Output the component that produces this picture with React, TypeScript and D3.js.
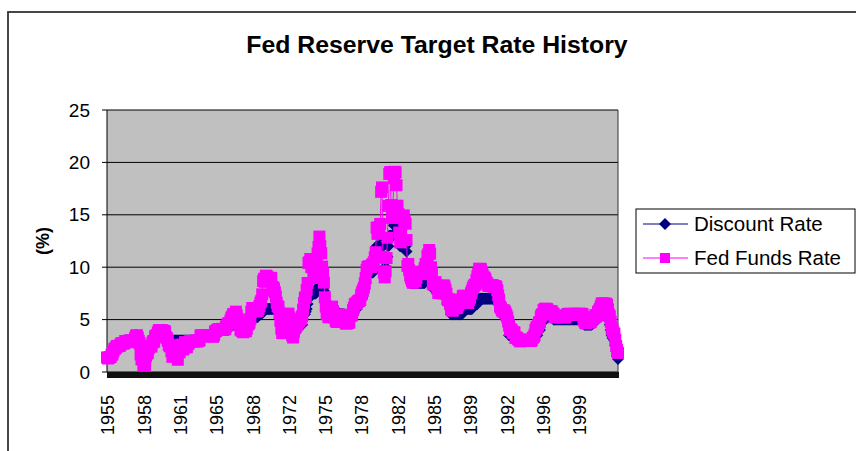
import React from "react";
import * as d3 from "d3";

// Monthly values, Jan 1955 – Dec 2001
const discountRate: number[] = [
  1.5,1.5,1.5,1.75,1.75,1.75,1.75,2,2.25,2.25,2.5,2.5,
  2.5,2.5,2.5,2.75,2.75,2.75,2.75,3,3,3,3,3,
  3,3,3,3,3,3,3,3.5,3.5,3.5,3,3,
  2.75,2.5,2.25,1.75,1.75,1.75,1.75,1.75,2,2,2.5,2.5,
  2.5,2.5,3,3,3,3.5,3.5,3.5,4,4,4,4,
  4,4,4,4,4,3.5,3.5,3,3,3,3,3,
  3,3,3,3,3,3,3,3,3,3,3,3,
  3,3,3,3,3,3,3,3,3,3,3,3,
  3,3,3,3,3,3,3.5,3.5,3.5,3.5,3.5,3.5,
  3.5,3.5,3.5,3.5,3.5,3.5,3.5,3.5,3.5,3.5,4,4,
  4,4,4,4,4,4,4,4,4,4,4,4.5,
  4.5,4.5,4.5,4.5,4.5,4.5,4.5,4.5,4.5,4.5,4.5,4.5,
  4.5,4.5,4.5,4,4,4,4,4,4,4,4.5,4.5,
  4.5,4.5,5,5.5,5.5,5.5,5.5,5.25,5.25,5.25,5.25,5.5,
  5.5,5.5,5.5,6,6,6,6,6,6,6,6,6,
  6,6,6,6,6,6,6,6,6,6,5.75,5.5,
  5,4.75,4.75,4.75,4.75,4.75,5,5,5,5,4.75,4.5,
  4.5,4.5,4.5,4.5,4.5,4.5,4.5,4.5,4.5,4.5,4.5,4.5,
  5,5.5,5.5,5.75,6,6.5,7,7.5,7.5,7.5,7.5,7.5,
  7.5,7.5,7.5,8,8,8,8,8,8,8,8,7.75,
  7.25,6.75,6.25,6.25,6,6,6,6,6,6,6,6,
  5.5,5.5,5.5,5.5,5.5,5.5,5.5,5.5,5.5,5.5,5.25,5.25,
  5.25,5.25,5.25,5.25,5.25,5.25,5.25,5.75,5.75,6,6,6,
  6.5,6.5,6.5,6.5,7,7,7.25,7.75,8,8.5,9.5,9.5,
  9.5,9.5,9.5,9.5,9.5,9.5,10,10.5,11,12,12,12,
  12,13,13,13,12,11,10,10,11,11,12,13,
  13,13,13,13,14,14,14,14,14,14,13,12,
  12,12,12,12,12,12,11.5,10,10,9.5,9,8.5,
  8.5,8.5,8.5,8.5,8.5,8.5,8.5,8.5,8.5,8.5,8.5,8.5,
  8.5,8.5,8.5,9,9,9,9,9,9,9,8.5,8,
  8,8,8,8,7.5,7.5,7.5,7.5,7.5,7.5,7.5,7.5,
  7.5,7.5,7,6.5,6.5,6.5,6,5.5,5.5,5.5,5.5,5.5,
  5.5,5.5,5.5,5.5,5.5,5.5,5.5,5.5,6,6,6,6,
  6,6,6,6,6,6,6,6.5,6.5,6.5,6.5,6.5,
  6.5,7,7,7,7,7,7,7,7,7,7,7,
  7,7,7,7,7,7,7,7,7,7,7,6.5,
  6.5,6,6,5.5,5.5,5.5,5.5,5.5,5,5,4.5,3.5,
  3.5,3.5,3.5,3.5,3.5,3.5,3,3,3,3,3,3,
  3,3,3,3,3,3,3,3,3,3,3,3,
  3,3,3,3,3.5,3.5,3.5,4,4,4,4.75,4.75,
  4.75,5.25,5.25,5.25,5.25,5.25,5.25,5.25,5.25,5.25,5.25,5.25,
  5,5,5,5,5,5,5,5,5,5,5,5,
  5,5,5,5,5,5,5,5,5,5,5,5,
  5,5,5,5,5,5,5,5,5,4.75,4.5,4.5,
  4.5,4.5,4.5,4.5,4.5,4.5,4.5,4.75,4.75,4.75,5,5,
  5,5.25,5.5,5.5,6,6,6,6,6,6,6,6,
  5,5,4.5,4,3.5,3.25,3.25,3,2.5,2,1.5,1.25,
];

const fedFundsRate: number[] = [
  1.39,1.29,1.35,1.43,1.43,1.64,1.68,1.96,2.18,2.24,2.35,2.48,
  2.45,2.5,2.5,2.62,2.75,2.71,2.75,2.73,2.95,2.96,2.88,2.94,
  2.84,3,2.96,3,3,3,2.99,3.24,3.47,3.5,3.28,2.98,
  2.72,1.67,1.2,1.26,0.63,0.93,0.68,1.53,1.76,1.8,2.27,2.42,
  2.48,2.43,2.8,2.96,2.9,3.39,3.47,3.5,3.76,3.98,4,3.99,
  3.99,3.97,3.84,3.92,3.85,3.32,3.23,2.98,2.6,2.47,2.44,1.98,
  1.45,2.54,2.02,1.49,1.98,1.73,1.17,2,1.88,2.26,2.61,2.33,
  2.15,2.37,2.85,2.78,2.36,2.68,2.71,2.93,2.9,2.9,2.94,2.93,
  2.92,3,2.98,2.9,3,2.99,3.02,3.49,3.48,3.5,3.48,3.38,
  3.48,3.48,3.43,3.47,3.5,3.5,3.42,3.5,3.45,3.36,3.52,3.85,
  3.9,3.98,4.04,4.09,4.1,4.04,4.09,4.12,4.01,4.08,4.1,4.32,
  4.42,4.6,4.65,4.67,4.9,5.17,5.3,5.53,5.4,5.53,5.76,5.4,
  4.94,5,4.53,4.05,3.94,3.98,3.79,3.9,3.99,3.88,4.13,4.51,
  4.6,4.71,5.05,5.76,6.11,6.07,6.02,6.03,5.78,5.91,5.82,6.02,
  6.3,6.61,6.79,7.41,8.67,8.9,8.61,9.19,9.15,9,8.85,8.97,
  8.98,8.98,7.76,8.1,7.95,7.61,7.21,6.61,6.29,6.2,5.6,4.9,
  4.14,3.72,3.71,4.15,4.63,4.91,5.31,5.56,5.55,5.2,4.91,4.14,
  3.5,3.29,3.83,4.17,4.27,4.46,4.55,4.8,4.87,5.04,5.06,5.33,
  5.94,6.58,7.09,7.12,7.84,8.49,10.4,10.5,10.78,10.01,10.03,9.95,
  9.65,8.97,9.35,10.51,11.31,11.93,12.92,12.01,11.34,10.06,9.45,8.53,
  7.13,6.24,5.54,5.49,5.22,5.55,6.1,6.14,6.24,5.82,5.22,5.2,
  4.87,4.77,4.84,4.82,5.29,5.48,5.31,5.29,5.25,5.02,4.95,4.65,
  4.61,4.68,4.69,4.73,5.35,5.39,5.42,5.9,6.14,6.47,6.51,6.56,
  6.7,6.78,6.79,6.89,7.36,7.6,7.81,8.04,8.45,8.96,9.76,10.03,
  10.07,10.06,10.09,10.01,10.24,10.29,10.47,10.94,11.43,13.77,13.18,13.78,
  13.82,14.13,17.19,17.61,10.98,9.47,9.03,9.61,10.87,12.81,15.85,18.9,
  19.08,15.93,14.7,15.72,18.52,19.1,19.04,17.82,15.87,15.08,13.31,12.37,
  13.22,14.78,14.68,14.94,14.45,14.15,12.59,10.12,10.31,9.71,9.2,8.95,
  8.68,8.51,8.77,8.8,8.63,8.98,9.37,9.56,9.45,9.48,9.34,9.47,
  9.56,9.59,9.91,10.29,10.32,11.06,11.23,11.64,11.3,9.99,9.43,8.38,
  8.35,8.5,8.58,8.27,7.97,7.53,7.88,7.9,7.92,7.99,8.05,8.27,
  8.14,7.86,7.48,6.99,6.85,6.92,6.56,6.17,5.89,5.85,6.04,6.91,
  6.43,6.1,6.13,6.37,6.85,6.73,6.58,6.73,7.22,7.29,6.69,6.77,
  6.83,6.58,6.58,6.87,7.09,7.51,7.75,8.01,8.19,8.3,8.35,8.76,
  9.12,9.36,9.85,9.84,9.81,9.53,9.24,8.99,9.02,8.84,8.55,8.45,
  8.23,8.24,8.28,8.26,8.18,8.29,8.15,8.13,8.2,8.11,7.81,7.31,
  6.91,6.25,6.12,5.91,5.78,5.9,5.82,5.66,5.45,5.21,4.81,4.43,
  4.03,4.06,3.98,3.73,3.82,3.76,3.25,3.3,3.22,3.1,3.09,2.92,
  3.02,3.03,3.07,2.96,3,3.04,3.06,3.03,3.09,2.99,3.02,2.96,
  3.05,3.25,3.34,3.56,4.01,4.25,4.26,4.47,4.73,4.76,5.29,5.45,
  5.53,5.92,5.98,6.05,6.01,6,5.85,5.74,5.8,5.76,5.8,5.6,
  5.56,5.22,5.31,5.22,5.24,5.27,5.4,5.22,5.3,5.24,5.31,5.29,
  5.25,5.19,5.39,5.51,5.5,5.56,5.52,5.54,5.54,5.5,5.52,5.5,
  5.56,5.51,5.49,5.45,5.49,5.56,5.54,5.55,5.51,5.07,4.83,4.68,
  4.63,4.76,4.81,4.74,4.74,4.76,4.99,5.07,5.22,5.2,5.42,5.3,
  5.45,5.73,5.85,6.02,6.27,6.53,6.54,6.5,6.52,6.51,6.51,6.4,
  5.98,5.49,5.31,4.8,4.21,3.97,3.77,3.65,3.07,2.49,2.09,1.82,
];

const xTickLabels: string[] = ["1955","1958","1961","1965","1968","1972","1975","1978","1982","1985","1989","1992","1996","1999"];
const labelEvery = 40;
const yTicks: number[] = [0, 5, 10, 15, 20, 25];
const seriesNames: string[] = ["Discount Rate", "Fed Funds Rate"];

const W = 856, H = 451;
const PL = 107, PR = 618, PT = 110, PB = 372;
const NAVY = "#000080", MAGENTA = "#FF00FF";
const FONT = "'Liberation Sans', Arial, sans-serif";
const SQ = 12;
const DR = 6;

export default function App() {
  const n = fedFundsRate.length;
  const x = d3.scaleLinear().domain([0, n - 1]).range([PL, PR]);
  const y = d3.scaleLinear().domain([0, 25]).range([PB, PT]);
  const line = d3.line<number>().x((_, i) => x(i)).y((v) => y(v));
  const diamond = `M0,${-DR}L${DR},0L0,${DR}L${-DR},0Z`;
  const idx = d3.range(n);

  const legendY = [224, 258];

  return (
    <svg width={W} height={H} style={{ position: "absolute", left: 0, top: 0, background: "#fff" }} fontFamily={FONT}>
      <rect x={8} y={12} width={W + 10} height={H + 10} fill="#fff" stroke="#333" strokeWidth={1.8} />
      <text x={437} y={53} textAnchor="middle" fontSize={24.8} fontWeight="bold" fill="#000">
        Fed Reserve Target Rate History
      </text>

      <rect x={PL} y={PT} width={PR - PL} height={PB - PT} fill="#C0C0C0" />
      {yTicks.map((t) => (
        <g key={t}>
          <line x1={PL} x2={PR} y1={y(t)} y2={y(t)} stroke="#000" strokeWidth={1} />
          <line x1={PL - 5} x2={PL} y1={y(t)} y2={y(t)} stroke="#000" strokeWidth={1} />
          <text x={PL - 17} y={y(t)} dy="0.35em" textAnchor="end" fontSize={19} fill="#000">{t}</text>
        </g>
      ))}
      <line x1={PR} x2={PR} y1={PT} y2={PB} stroke="#333" strokeWidth={1} />
      <line x1={PL} x2={PL} y1={PT} y2={PB} stroke="#000" strokeWidth={1} />

      <g shapeRendering="crispEdges">
        {idx.map((i) => (
          <line key={i} x1={x(i)} x2={x(i)} y1={PB} y2={PB + 6} stroke="#111" strokeWidth={1} />
        ))}
      </g>
      {xTickLabels.map((lab, k) => (
        <text key={lab} transform={`translate(${x(k * labelEvery) + 1},${395}) rotate(-90)`} dy="0.35em" textAnchor="end" fontSize={18} fill="#000">
          {lab}
        </text>
      ))}

      <text transform={`translate(43,241) rotate(-90)`} dy="0.35em" textAnchor="middle" fontSize={18} fontWeight="bold" fill="#000">(%)</text>

      <path d={line(discountRate) ?? ""} fill="none" stroke={NAVY} strokeWidth={1} />
      {discountRate.map((v, i) => (
        <path key={i} d={diamond} transform={`translate(${x(i)},${y(v)})`} fill={NAVY} />
      ))}
      <path d={line(fedFundsRate) ?? ""} fill="none" stroke={MAGENTA} strokeWidth={1} />
      {fedFundsRate.map((v, i) => (
        <rect key={i} x={x(i) - SQ / 2} y={y(v) - SQ / 2} width={SQ} height={SQ} fill={MAGENTA} />
      ))}

      <rect x={636} y={209} width={219} height={64} fill="#fff" stroke="#000" strokeWidth={1} />
      {seriesNames.map((name, k) => (
        <g key={name}>
          <line x1={643} x2={688} y1={legendY[k]} y2={legendY[k]} stroke={k === 0 ? NAVY : MAGENTA} strokeWidth={1} />
          {k === 0 ? (
            <path d={diamond} transform={`translate(665,${legendY[k]})`} fill={NAVY} />
          ) : (
            <rect x={660} y={legendY[k] - 5} width={10} height={10} fill={MAGENTA} />
          )}
          <text x={694} y={legendY[k]} dy="0.35em" fontSize={20.5} fill="#000">{name}</text>
        </g>
      ))}
    </svg>
  );
}
